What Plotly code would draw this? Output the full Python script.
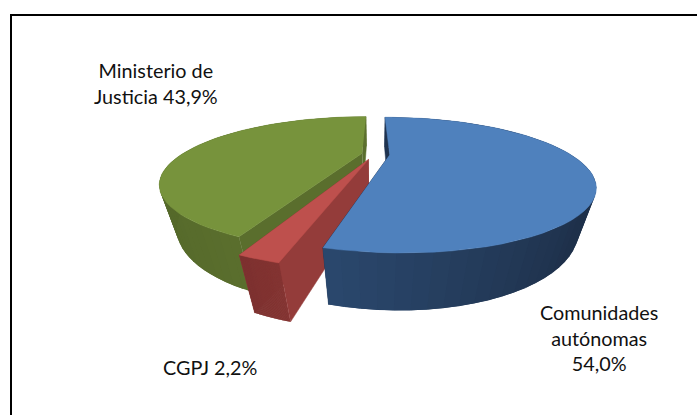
import numpy as np
import plotly.graph_objects as go

# ---- data ----
categories = ["Comunidades autónomas", "CGPJ", "Ministerio de Justicia"]
shares = [54.0, 2.2, 43.9]
explode = [0.085, 0.10, 0.07]
top_colors = ["#4F81BD", "#BE504D", "#77933C"]
wall_near = [(50, 86, 130), (132, 52, 50), (92, 112, 46)]
wall_far = [(30, 48, 74), (125, 50, 48), (84, 104, 42)]
radial_colors = ["#1F3350", "#943C3A", "#5A6E2D"]

# ---- projection ----
CX, CY, RX, RY = 374.5, 154.0, 180.0, 53.6
K, M, H = 0.448, 0.07, 42.5


def project(px, py, z):
    w = 1 + K * py + M * z
    return CX + RX * px / w, CY + (-RY * py + H * z) / w


def rgb(c):
    return "rgb(%d,%d,%d)" % tuple(int(round(v)) for v in c)


fig = go.Figure()


def poly(xs, ys, color, lw=0.5):
    fig.add_trace(go.Scatter(
        x=list(xs), y=list(ys), mode="lines", fill="toself", fillcolor=color,
        line=dict(color=color, width=lw), hoverinfo="skip", showlegend=False))


def wall(q, color, lw=0.5):
    pts = [project(*p) for p in q]
    poly([p[0] for p in pts], [p[1] for p in pts], color, lw)


total = sum(shares)
start = 0.0
slices = []
for i, share in enumerate(shares):
    sweep = share / total * 2 * np.pi
    slices.append((i, start, start + sweep))
    start += sweep

# back to front: green, red, blue
for i, a0, a1 in [slices[2], slices[1], slices[0]]:
    mid = (a0 + a1) / 2
    ox, oy = explode[i] * np.sin(mid), explode[i] * np.cos(mid)
    th = np.linspace(a0, a1, 60)
    rx, ry = ox + np.sin(th), oy + np.cos(th)

    # far radial wall
    wall([(ox, oy, 0), (rx[-1], ry[-1], 0), (rx[-1], ry[-1], 1), (ox, oy, 1)], radial_colors[i])

    # outer wall, shaded by facing direction; each strip overlaps the next
    for j in range(len(th) - 1):
        tm = (th[j] + th[j + 1]) / 2
        if i == 0:
            f = np.clip((np.sin(tm) + 0.8) / 1.5, 0, 1)
        elif i == 2:
            f = np.clip((-np.sin(tm) - 0.2) / 0.8, 0, 1)
        else:
            f = (tm - a0) / (a1 - a0)
        col = [a + (b - a) * f for a, b in zip(wall_near[i], wall_far[i])]
        k = min(j + 2, len(th) - 1)
        wall([(rx[j], ry[j], 0), (rx[k], ry[k], 0), (rx[k], ry[k], 1), (rx[j], ry[j], 1)], rgb(col), 0)

    # near radial wall
    wall([(ox, oy, 0), (rx[0], ry[0], 0), (rx[0], ry[0], 1), (ox, oy, 1)], radial_colors[i])

    # top face
    px = np.concatenate([[ox], rx])
    py = np.concatenate([[oy], ry])
    sx, sy = project(px, py, 0)
    poly(sx, sy, top_colors[i])

labels = [
    ("Ministerio de<br>Justicia 43,9%", 156, 83),
    ("Comunidades<br>autónomas<br>54,0%", 599, 337),
    ("CGPJ 2,2%", 210, 367),
]
for text, x, y in labels:
    fig.add_annotation(x=x, y=y, text=text, showarrow=False, align="center",
                       font=dict(family="Lato, Carlito, sans-serif", size=19.8, color="#111111"))

fig.add_shape(type="rect", x0=11, y0=15, x1=720, y1=440,
              line=dict(color="#000000", width=2), fillcolor="rgba(0,0,0,0)")

fig.update_layout(
    width=697, height=415, margin=dict(l=0, r=0, t=0, b=0),
    paper_bgcolor="#FFFFFF", plot_bgcolor="#FFFFFF", showlegend=False,
    xaxis=dict(range=[0, 697], visible=False, fixedrange=True),
    yaxis=dict(range=[415, 0], visible=False, fixedrange=True),
)
fig.write_html("out.html", config={"displayModeBar": False},
               post_script="document.body.style.margin='0';")
